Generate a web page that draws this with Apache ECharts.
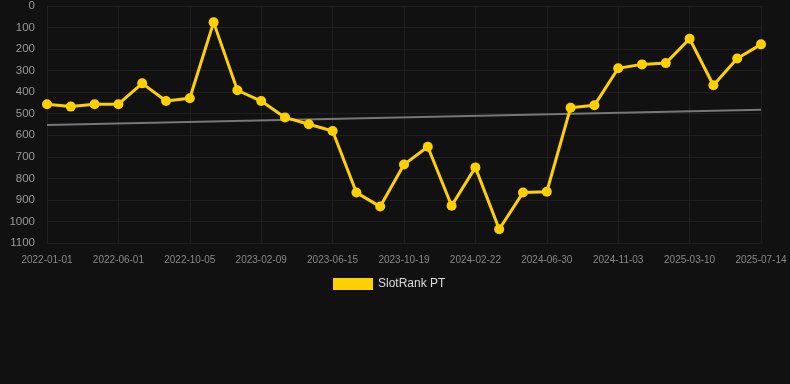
<!DOCTYPE html>
<html lang="en">
<head>
    <meta charset="UTF-8">
    <title>SlotRank PT</title>
    <style>
        * { margin: 0; padding: 0; }
        html, body { width: 100%; height: 100%; background: #111111; }
        #chart { width: 790px; height: 384px; }
    </style>
    <script src="https://cdn.jsdelivr.net/npm/echarts@6/dist/echarts.min.js"></script>
</head>
<body>
<div id="chart"></div>
<script>
    var dates = [
        '2022-01-01', '2022-02-20', '2022-04-11', '2022-06-01', '2022-07-13', '2022-08-24',
        '2022-10-05', '2022-11-16', '2022-12-28', '2023-02-09', '2023-03-23', '2023-05-04',
        '2023-06-15', '2023-07-27', '2023-09-07', '2023-10-19', '2023-11-30', '2024-01-11',
        '2024-02-22', '2024-04-04', '2024-05-17', '2024-06-30', '2024-08-11', '2024-09-22',
        '2024-11-03', '2024-12-15', '2025-01-27', '2025-03-10', '2025-04-21', '2025-06-02',
        '2025-07-14'
    ];
    var rank = [
        456, 467, 456, 456, 359, 441, 428, 76, 391, 441, 517, 549, 580, 866, 931, 736,
        653, 927, 749, 1036, 866, 862, 472, 461, 289, 271, 265, 152, 368, 244, 178
    ];
    var trendStart = 552;
    var trendEnd = 481;

    var trend = dates.map(function (d, i) {
        if (i === 0) return trendStart;
        if (i === dates.length - 1) return trendEnd;
        return null;
    });

    var myChart = echarts.init(document.getElementById('chart'));
    var option = {
        backgroundColor: '#111111',
        animation: false,
        grid: {
            top: 6,
            left: 47,
            right: 29,
            height: 237
        },
        legend: {
            data: ['SlotRank PT'],
            top: 273,
            left: 328,
            itemWidth: 40,
            itemHeight: 12,
            icon: 'rect',
            textStyle: { color: '#dddddd', fontSize: 12, fontFamily: 'Liberation Sans, Arial' }
        },
        xAxis: {
            type: 'category',
            data: dates,
            boundaryGap: false,
            axisLine: { show: false },
            axisTick: { show: false },
            axisLabel: {
                interval: 2,
                color: '#888888',
                fontSize: 10,
                margin: 12,
                fontFamily: 'Liberation Sans, Arial'
            },
            splitLine: {
                show: true,
                interval: 2,
                lineStyle: { color: '#1f1f1f', width: 1 }
            }
        },
        yAxis: {
            type: 'value',
            inverse: true,
            min: 0,
            max: 1100,
            interval: 100,
            axisLine: { show: false },
            axisTick: { show: false },
            axisLabel: {
                color: '#999999',
                fontSize: 11.5,
                margin: 12,
                fontFamily: 'Liberation Sans, Arial',
                formatter: function (v) { return String(v); }
            },
            splitLine: { lineStyle: { color: '#1f1f1f', width: 1 } }
        },
        series: [
            {
                name: 'trend',
                type: 'line',
                data: trend,
                connectNulls: true,
                showSymbol: false,
                symbol: 'none',
                silent: true,
                lineStyle: { color: '#777777', width: 2 },
                z: 1
            },
            {
                name: 'SlotRank PT',
                type: 'line',
                data: rank,
                symbol: 'circle',
                symbolSize: 10,
                itemStyle: { color: '#ffd000' },
                lineStyle: { color: '#ffd000', width: 3 },
                z: 2
            }
        ]
    };
    myChart.setOption(option);
</script>
</body>
</html>
